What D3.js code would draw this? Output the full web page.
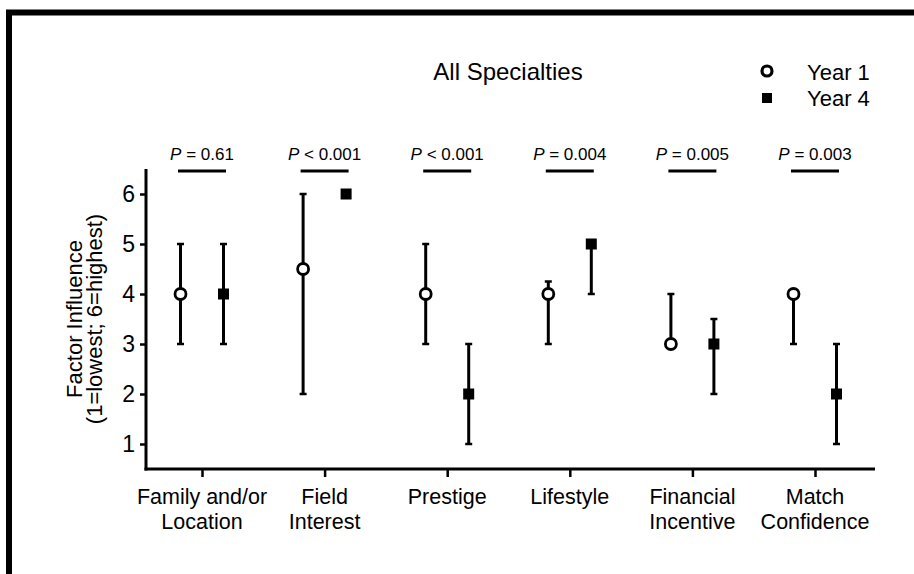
<!DOCTYPE html>
<html>
<head>
<meta charset="utf-8">
<script src="https://cdn.jsdelivr.net/npm/d3@7"></script>
<style>
  body { margin: 0; background: #fff; }
  text { font-family: "Liberation Sans", Arial, sans-serif; fill: #000; }
</style>
</head>
<body>
<div id="chart"></div>
<script>
const categories = [['Family and/or', 'Location'], ['Field', 'Interest'], ['Prestige'], ['Lifestyle'], ['Financial', 'Incentive'], ['Match', 'Confidence']]
const pLabels = [['=', '0.61'], ['<', '0.001'], ['<', '0.001'], ['=', '0.004'], ['=', '0.005'], ['=', '0.003']]

// median, lower, upper
const year1Median = [4, 4.5, 4, 4, 3, 4]
const year1Low = [3, 2, 3, 3, 3, 3]
const year1High = [5, 6, 5, 4.25, 4, 4]
const year4Median = [4, 6, 2, 5, 3, 2]
const year4Low = [3, 6, 1, 4, 2, 1]
const year4High = [5, 6, 3, 5, 3.5, 3]

const yTicks = [1, 2, 3, 4, 5, 6]

const w = 914, h = 574

const svg = d3.select('#chart').append('svg')
    .attr('width', w)
    .attr('height', h)

// outer frame (runs off the right and bottom)
svg.append('rect')
    .attr('x', 9).attr('y', 12.5)
    .attr('width', 1000).attr('height', 1000)
    .attr('fill', 'none')
    .attr('stroke', '#000')
    .attr('stroke-width', 6)

const idx = d3.range(categories.length)

const x = d3.scalePoint()
    .domain(idx)
    .range([202, 815])

const y = d3.scaleLinear()
    .domain([0.5, 6.5])
    .range([469, 169])

const off = 21.5

// axes
const yAxis = svg.append('g')
    .attr('transform', 'translate(146,0)')
    .call(d3.axisLeft(y).tickValues(yTicks).tickFormat(d3.format('d')).tickSize(6).tickSizeOuter(0).tickPadding(5))
yAxis.select('.domain').remove()
yAxis.selectAll('.tick line').attr('stroke-width', 2.5)
yAxis.selectAll('.tick text').style('font-size', '23px').style('font-family', '"Liberation Sans", Arial, sans-serif')

const xAxis = svg.append('g')
    .attr('transform', 'translate(0,469)')
    .call(d3.axisBottom(x).tickSize(8).tickFormat(''))
xAxis.select('.domain').remove()
xAxis.selectAll('.tick line').attr('stroke-width', 2.5)

svg.append('line')
    .attr('x1', 146).attr('x2', 146)
    .attr('y1', y(6.5)).attr('y2', y(0.5) + 1.5)
    .attr('stroke', '#000').attr('stroke-width', 3)
svg.append('line')
    .attr('x1', 144.5).attr('x2', 875)
    .attr('y1', y(0.5)).attr('y2', y(0.5))
    .attr('stroke', '#000').attr('stroke-width', 3)

// category labels
svg.selectAll('.cat')
    .data(idx)
    .enter()
    .append('text')
    .attr('class', 'cat')
    .attr('text-anchor', 'middle')
    .style('font-size', '21.5px')
    .each(function (i) {
        const t = d3.select(this)
        categories[i].forEach((line, k) => {
            t.append('tspan')
                .attr('x', x(i))
                .attr('y', 504 + k * 25)
                .text(line)
        })
    })

// y label
svg.append('text')
    .attr('transform', 'translate(82,' + y(3.5) + ') rotate(-90)')
    .attr('text-anchor', 'middle')
    .style('font-size', '22px')
    .text('Factor Influence')
svg.append('text')
    .attr('transform', 'translate(102,' + y(3.5) + ') rotate(-90)')
    .attr('text-anchor', 'middle')
    .style('font-size', '22px')
    .text('(1=lowest; 6=highest)')

// p values and bars
const pg = svg.selectAll('.pval')
    .data(idx)
    .enter()
    .append('g')
    .attr('class', 'pval')

pg.append('text')
    .attr('x', (i) => x(i))
    .attr('y', 160)
    .attr('text-anchor', 'middle')
    .style('font-size', '17px')
    .each(function (i) {
        const t = d3.select(this)
        t.append('tspan').style('font-style', 'italic').text('P')
        t.append('tspan').text(' ' + pLabels[i][0] + ' ' + pLabels[i][1])
    })

pg.append('line')
    .attr('x1', (i) => x(i) - 24)
    .attr('x2', (i) => x(i) + 24)
    .attr('y1', 171).attr('y2', 171)
    .attr('stroke', '#000')
    .attr('stroke-width', 3)

// error bars
const drawBars = (cls, dx, low, high) => {
    const g = svg.selectAll('.' + cls)
        .data(idx.filter((i) => low[i] !== high[i]))
        .enter()
        .append('g')
        .attr('class', cls)
    g.append('line')
        .attr('x1', (i) => x(i) + dx).attr('x2', (i) => x(i) + dx)
        .attr('y1', (i) => y(low[i])).attr('y2', (i) => y(high[i]))
        .attr('stroke', '#000').attr('stroke-width', 3)
    g.append('line')
        .attr('x1', (i) => x(i) + dx - 3.5).attr('x2', (i) => x(i) + dx + 3.5)
        .attr('y1', (i) => y(low[i])).attr('y2', (i) => y(low[i]))
        .attr('stroke', '#000').attr('stroke-width', 2.5)
    g.append('line')
        .attr('x1', (i) => x(i) + dx - 3.5).attr('x2', (i) => x(i) + dx + 3.5)
        .attr('y1', (i) => y(high[i])).attr('y2', (i) => y(high[i]))
        .attr('stroke', '#000').attr('stroke-width', 2.5)
}

drawBars('bar1', -off, year1Low, year1High)
drawBars('bar4', off, year4Low, year4High)

// markers
svg.selectAll('.m1')
    .data(idx)
    .enter()
    .append('circle')
    .attr('class', 'm1')
    .attr('cx', (i) => x(i) - off)
    .attr('cy', (i) => y(year1Median[i]))
    .attr('r', 5.5)
    .attr('fill', '#fff')
    .attr('stroke', '#000')
    .attr('stroke-width', 2.8)

svg.selectAll('.m4')
    .data(idx)
    .enter()
    .append('rect')
    .attr('class', 'm4')
    .attr('x', (i) => x(i) + off - 5.5)
    .attr('y', (i) => y(year4Median[i]) - 5.5)
    .attr('width', 11).attr('height', 11)
    .attr('fill', '#000')

// title
svg.append('text')
    .attr('x', 508)
    .attr('y', 80)
    .attr('text-anchor', 'middle')
    .style('font-size', '24px')
    .text('All Specialties')

// legend
const legend = svg.append('g')
legend.append('circle')
    .attr('cx', 767).attr('cy', 71).attr('r', 5)
    .attr('fill', '#fff').attr('stroke', '#000').attr('stroke-width', 3.2)
legend.append('rect')
    .attr('x', 762).attr('y', 93).attr('width', 10).attr('height', 10)
    .attr('fill', '#000')
legend.append('text')
    .attr('x', 807).attr('y', 80)
    .style('font-size', '22px')
    .text('Year 1')
legend.append('text')
    .attr('x', 807).attr('y', 106)
    .style('font-size', '22px')
    .text('Year 4')
</script>
</body>
</html>
